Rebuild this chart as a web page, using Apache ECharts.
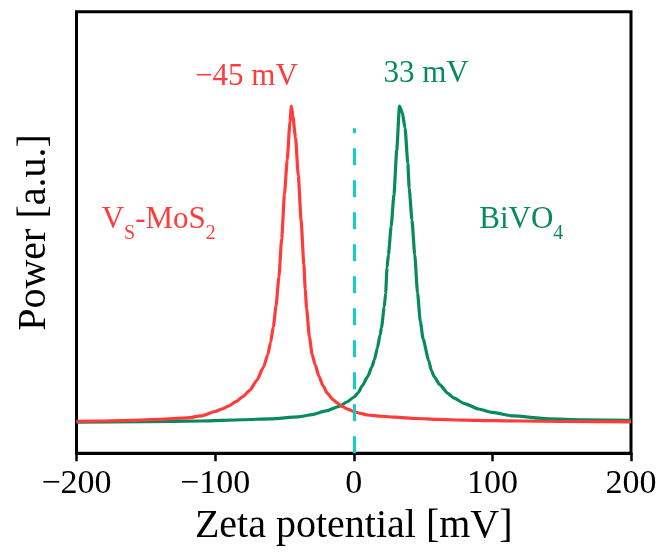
<!DOCTYPE html>
<html>
<head>
<meta charset="utf-8">
<script src="https://cdn.jsdelivr.net/npm/echarts@6/dist/echarts.min.js"></script>
<style>
  html, body { margin: 0; padding: 0; background: #fff; }
  #chart { width: 663px; height: 556px; }
</style>
</head>
<body>
<div id="chart"></div>
<script>
// Zeta potential distributions (relative power, peak = 100)
const zetaMoS2 = [-200,-180,-160,-140,-120,-110,-100,-95,-90,-85,-80,-75,-70,-65,-62,-60,-58,-56,-54,-52,-50,-48,-46,-45,-44,-42,-40,-38,-36,-35,-34,-32,-30,-28,-25,-22,-19,-15,-12,-8,-4,0,5,10,20,30,45,60,80,100,120,150,200];
const powerMoS2 = [0.4,0.5,0.7,1.0,1.5,2.1,3.5,4.3,5.3,6.6,8.2,10.2,13.3,17.6,21.5,25.3,30.3,37,46,58,72,83,95,100,97,90,78,64,50,42,36,27,21.5,18.5,14.5,11.5,9.2,7.3,6.2,5.0,4.2,3.5,2.9,2.4,2.0,1.7,1.3,1.0,0.8,0.6,0.5,0.35,0.2];

const zetaBiVO4 = [-200,-150,-110,-80,-60,-40,-30,-20,-10,-5,0,3,6,10,13,15,17,19,20,22,23,24,25,27,29,31,33,35,37,39,40,42,44,46,48,50,54,56,58,62,68,72,80,90,100,115,140,165,200];
const powerBiVO4 = [0.15,0.3,0.5,0.9,1.2,1.8,2.5,3.7,5.2,6.5,8.0,9.3,11.5,14.5,17.5,20,23.5,27.7,30,36.5,40.8,49,53,62,72,86,100,98,93,82,74,64,53,41,32,26.5,19.7,16.5,14.5,12,9.2,7.8,6.0,4.3,3.2,2.1,1.2,0.9,0.7];

const xTicks = [-200, -100, 0, 100, 200];
const peakMoS2 = -45;   // mV
const peakBiVO4 = 33;   // mV

const RED = '#ff3b3b';
const GREEN = '#078a5c';
const CYAN = '#14cccc';
const FONT = '"Liberation Serif", "Times New Roman", serif';

const Y_MIN = -9.7, Y_MAX = 129.8;

function pairs(xs, ys) { return xs.map((x, i) => [x, ys[i]]); }
const minus = v => String(v).replace('-', '\u2212');

const chart = echarts.init(document.getElementById('chart'), null, { renderer: 'canvas' });

chart.setOption({
  animation: false,
  backgroundColor: '#fff',
  grid: {
    left: 76.5, right: 32, top: 11.7, bottom: 102.7,
    show: true, borderColor: '#000', borderWidth: 3, backgroundColor: 'transparent'
  },
  xAxis: {
    type: 'value',
    min: xTicks[0], max: xTicks[xTicks.length - 1], interval: 100,
    name: 'Zeta potential [mV]',
    nameLocation: 'middle',
    nameGap: 48,
    nameTextStyle: { fontFamily: FONT, fontSize: 40, color: '#000' },
    axisLine: { show: true, onZero: false, lineStyle: { color: '#000', width: 3 } },
    axisTick: { show: true, length: 8, lineStyle: { color: '#000', width: 2.5 } },
    axisLabel: { fontFamily: FONT, fontSize: 34, color: '#000', margin: 14, formatter: minus },
    splitLine: { show: false }
  },
  yAxis: {
    type: 'value',
    min: Y_MIN, max: Y_MAX,
    name: 'Power [a.u.]',
    nameLocation: 'middle',
    nameGap: 22,
    nameTextStyle: { fontFamily: FONT, fontSize: 40, color: '#000' },
    axisLine: { show: false, onZero: false },
    axisTick: { show: false },
    axisLabel: { show: false },
    splitLine: { show: false }
  },
  series: [
    {
      name: 'BiVO4',
      type: 'line',
      data: pairs(zetaBiVO4, powerBiVO4),
      showSymbol: false,
      smooth: 0.2,
      smoothMonotone: 'x',
      lineStyle: { color: GREEN, width: 3.2 },
      z: 2,
      markLine: {
        silent: true,
        symbol: 'none',
        label: { show: false },
        lineStyle: { color: CYAN, width: 3, type: [17, 15] },
        data: [[{ coord: [0, Y_MIN] }, { coord: [0, 93] }]]
      }
    },
    {
      name: 'Vs-MoS2',
      type: 'line',
      data: pairs(zetaMoS2, powerMoS2),
      showSymbol: false,
      smooth: 0.2,
      smoothMonotone: 'x',
      lineStyle: { color: RED, width: 3.2 },
      z: 3
    }
  ],
  graphic: [
    {
      type: 'text', x: 246.5, y: 76.5,
      style: { text: minus(peakMoS2) + ' mV', fill: RED, font: '31px ' + FONT, align: 'center', verticalAlign: 'middle' }
    },
    {
      type: 'text', x: 426, y: 73.5,
      style: { text: peakBiVO4 + ' mV', fill: GREEN, font: '31px ' + FONT, align: 'center', verticalAlign: 'middle' }
    },
    {
      type: 'text', x: 101.7, y: 204,
      style: {
        text: '{m|V}{s|S}{m|-MoS}{s|2}',
        align: 'left', verticalAlign: 'top',
        rich: {
          m: { fontFamily: FONT, fontSize: 31, lineHeight: 31, verticalAlign: 'top', fill: RED, color: RED },
          s: { fontFamily: FONT, fontSize: 20, lineHeight: 40, verticalAlign: 'bottom', fill: RED, color: RED }
        }
      }
    },
    {
      type: 'text', x: 479.3, y: 204,
      style: {
        text: '{m|BiVO}{s|4}',
        align: 'left', verticalAlign: 'top',
        rich: {
          m: { fontFamily: FONT, fontSize: 31, lineHeight: 31, verticalAlign: 'top', fill: GREEN, color: GREEN },
          s: { fontFamily: FONT, fontSize: 20, lineHeight: 40, verticalAlign: 'bottom', fill: GREEN, color: GREEN }
        }
      }
    }
  ]
});
</script>
</body>
</html>
